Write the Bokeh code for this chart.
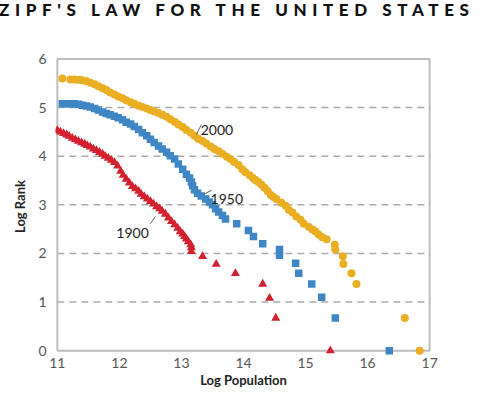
from bokeh.plotting import figure
from bokeh.models import Range1d, FixedTicker, Div, ColumnDataSource
from bokeh.layouts import column
from bokeh.embed import file_html
from bokeh.resources import INLINE
from bokeh.core.properties import value

title_text = "ZIPF'S LAW FOR THE UNITED STATES"
x_label = "Log Population"
y_label = "Log Rank"
x_ticks = [11, 12, 13, 14, 15, 16, 17]
y_ticks = [0, 1, 2, 3, 4, 5, 6]
grid_levels = [1, 2, 3, 4, 5]

# 1900 series (red triangles)
pop_1900 = [11.00, 11.05, 11.10, 11.15, 11.19, 11.24, 11.29, 11.34, 11.39, 11.44,
            11.48, 11.53, 11.58, 11.63, 11.68, 11.73, 11.77, 11.82, 11.87, 11.92,
            11.97, 12.02, 12.06, 12.11, 12.16, 12.21, 12.26, 12.31, 12.35, 12.40,
            12.45, 12.50, 12.55, 12.60, 12.65, 12.69, 12.74, 12.79, 12.84, 12.89,
            12.94, 12.98, 13.02, 13.05, 13.08, 13.11, 13.15, 13.16, 13.16,
            13.34, 13.56, 13.87, 14.31, 14.42, 14.52, 15.40]
rank_1900 = [4.53, 4.50, 4.47, 4.44, 4.41, 4.37, 4.34, 4.31, 4.28, 4.25,
             4.22, 4.19, 4.15, 4.12, 4.08, 4.04, 4.00, 3.96, 3.92, 3.87,
             3.80, 3.69, 3.61, 3.53, 3.45, 3.38, 3.33, 3.28, 3.22, 3.17,
             3.12, 3.07, 3.02, 2.96, 2.92, 2.87, 2.81, 2.73, 2.66, 2.59,
             2.52, 2.45, 2.40, 2.35, 2.30, 2.24, 2.18, 2.12, 2.04,
             1.94, 1.78, 1.59, 1.37, 1.08, 0.67, 0.00]

# 1950 series (blue squares)
pop_1950 = [11.08, 11.15, 11.21, 11.27, 11.34, 11.40, 11.47, 11.53, 11.60, 11.66,
            11.73, 11.79, 11.85, 11.92, 11.98, 12.05, 12.11, 12.18, 12.24, 12.31,
            12.37, 12.44, 12.50, 12.56, 12.63, 12.69, 12.76, 12.82, 12.89, 12.95,
            13.02, 13.08, 13.13, 13.16, 13.18, 13.21, 13.26, 13.32, 13.39, 13.45,
            13.50, 13.55, 13.60, 13.66, 13.71,
            13.89, 14.08, 14.16, 14.31, 14.58, 14.58, 14.84, 14.89, 15.10, 15.26,
            15.48, 16.35]
rank_1950 = [5.08, 5.08, 5.08, 5.08, 5.07, 5.05, 5.03, 5.01, 4.98, 4.95,
             4.91, 4.88, 4.85, 4.82, 4.79, 4.75, 4.70, 4.66, 4.61, 4.55,
             4.48, 4.42, 4.35, 4.28, 4.21, 4.15, 4.08, 4.01, 3.94, 3.84,
             3.73, 3.63, 3.55, 3.47, 3.39, 3.31, 3.24, 3.18, 3.12, 3.06,
             3.00, 2.92, 2.85, 2.78, 2.71,
             2.61, 2.47, 2.35, 2.20, 2.08, 1.96, 1.80, 1.59, 1.37, 1.10,
             0.67, 0.00]

# 2000 series (gold circles)
pop_2000 = [11.08, 11.21, 11.27, 11.34, 11.40, 11.47, 11.53, 11.60, 11.66, 11.73,
            11.79, 11.85, 11.92, 11.98, 12.05, 12.11, 12.18, 12.24, 12.31, 12.37,
            12.44, 12.50, 12.56, 12.63, 12.69, 12.76, 12.82, 12.89, 12.95, 13.02,
            13.08, 13.15, 13.21, 13.27, 13.34, 13.40, 13.47, 13.53, 13.60, 13.66,
            13.73, 13.79, 13.85, 13.92, 13.98, 14.03, 14.10, 14.15, 14.19, 14.24,
            14.29, 14.34, 14.39, 14.44, 14.48, 14.53, 14.61, 14.68, 14.73, 14.79,
            14.85, 14.92, 14.97, 15.05, 15.11, 15.16, 15.21, 15.27, 15.34, 15.47,
            15.48, 15.60, 15.61, 15.74, 15.82, 16.60, 16.84]
rank_2000 = [5.60, 5.58, 5.58, 5.57, 5.56, 5.54, 5.51, 5.48, 5.44, 5.40,
             5.36, 5.31, 5.27, 5.23, 5.19, 5.15, 5.11, 5.08, 5.04, 5.01,
             4.98, 4.95, 4.92, 4.89, 4.85, 4.81, 4.76, 4.71, 4.65, 4.60,
             4.54, 4.48, 4.42, 4.36, 4.31, 4.26, 4.20, 4.15, 4.10, 4.05,
             3.99, 3.94, 3.88, 3.82, 3.73, 3.67, 3.61, 3.55, 3.51, 3.47,
             3.41, 3.35, 3.28, 3.20, 3.16, 3.12, 3.04, 2.98, 2.90, 2.84,
             2.76, 2.69, 2.61, 2.55, 2.49, 2.45, 2.39, 2.33, 2.29, 2.18,
             2.08, 1.94, 1.78, 1.59, 1.37, 0.67, 0.00]

# series labels with leader lines
label_text = ["2000", "1950", "1900"]
label_x = [13.31, 13.47, 11.95]
label_y = [4.53, 3.12, 2.41]
leader_x0 = [13.24, 13.38, 12.50]
leader_y0 = [4.44, 3.23, 2.61]
leader_x1 = [13.32, 13.49, 12.58]
leader_y1 = [4.65, 3.30, 2.76]

GOLD = "#E9AE22"
BLUE = "#3F87C4"
RED = "#D3202F"
FONT = "Lato"

x0, x1 = x_ticks[0], x_ticks[-1]
y0, y1 = y_ticks[0], y_ticks[-1]

p = figure(width=476, height=360, output_backend="svg", toolbar_location=None,
           x_range=Range1d(x0 - 0.03, x1 + 0.03), y_range=Range1d(y0 - 0.1, y1 + 0.03),
           min_border_left=55, min_border_right=45, min_border_top=27, min_border_bottom=33)

p.outline_line_color = None
p.background_fill_color = "white"
p.border_fill_color = "white"
p.xgrid.visible = False
p.ygrid.visible = False

for ax in (p.xaxis[0], p.yaxis[0]):
    ax.axis_line_color = None
    ax.major_tick_line_color = None
    ax.minor_tick_line_color = None
    ax.major_tick_out = 0
    ax.major_tick_in = 0
    ax.minor_tick_out = 0
    ax.minor_tick_in = 0
    ax.major_label_text_font = FONT
    ax.major_label_text_font_size = "14px"
    ax.major_label_text_color = "#555555"
    ax.axis_label_text_font = FONT
    ax.axis_label_text_font_size = "13px"
    ax.axis_label_text_font_style = "bold"
    ax.axis_label_text_color = "#222222"

p.xaxis.ticker = FixedTicker(ticks=x_ticks)
p.yaxis.ticker = FixedTicker(ticks=y_ticks)
p.xaxis.axis_label = x_label
p.yaxis.axis_label = y_label
p.xaxis.major_label_standoff = 2
p.xaxis.axis_label_standoff = 1
p.yaxis.major_label_standoff = 9
p.yaxis.axis_label_standoff = 7

# dashed gridlines between the border lines
p.segment(x0=[x0] * len(grid_levels), x1=[x1] * len(grid_levels), y0=grid_levels, y1=grid_levels,
          line_color="#ABABAB", line_width=1.5, line_dash="7 5")
# plot border
p.line(x=[x0, x1, x1, x0, x0], y=[y0, y0, y1, y1, y0], line_color="#BDBDBD", line_width=2)

src_1900 = ColumnDataSource(dict(x=pop_1900, y=rank_1900))
src_1950 = ColumnDataSource(dict(x=pop_1950, y=rank_1950))
src_2000 = ColumnDataSource(dict(x=pop_2000, y=rank_2000))

p.scatter("x", "y", source=src_2000, marker="circle", size=8, fill_color=GOLD, line_color=None)
p.scatter("x", "y", source=src_1950, marker="square", size=7.5, fill_color=BLUE, line_color=None)
p.scatter("x", "y", source=src_1900, marker="triangle", size=9, fill_color=RED, line_color=None)

p.segment(x0=leader_x0, y0=leader_y0, x1=leader_x1, y1=leader_y1, line_color="#666666", line_width=1)
p.text(x=label_x, y=label_y, text=label_text, text_font=value(FONT), text_font_size="14px",
       text_color="#222222", text_baseline="alphabetic", text_align="left")

title = Div(text=title_text, width=476, height=20,
            styles={"font-family": FONT, "font-weight": "900", "font-size": "17px",
                    "letter-spacing": "5.6px", "line-height": "10px", "color": "#111111",
                    "white-space": "nowrap", "text-indent": "-6px"})

layout = column(title, p, spacing=0)

open("out.html", "w").write(file_html(layout, INLINE))
